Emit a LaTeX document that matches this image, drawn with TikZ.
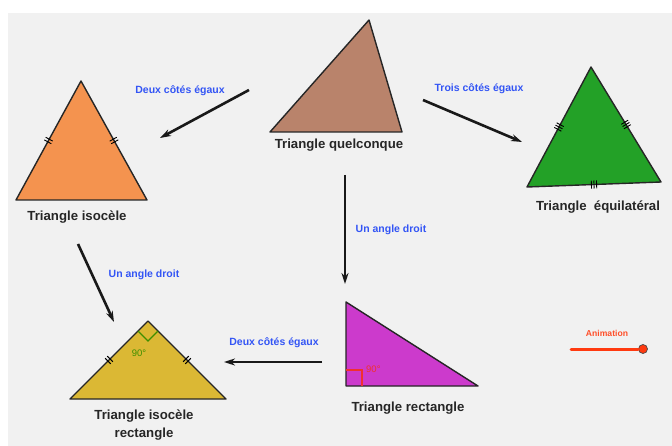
\documentclass[tikz,border=0pt]{standalone}
\usepackage{fontspec}
\setmainfont{Liberation Sans}
\usetikzlibrary{arrows.meta,calc}
\definecolor{bgray}{HTML}{F1F1F1}
\definecolor{cquel}{HTML}{B9836B}
\definecolor{ciso}{HTML}{F4934F}
\definecolor{cequi}{HTML}{23A127}
\definecolor{cisorect}{HTML}{DBB834}
\definecolor{crect}{HTML}{CC3ACC}
\definecolor{condblue}{HTML}{3355F5}
\definecolor{canim}{HTML}{FF3A10}
\definecolor{cgreenang}{HTML}{3F8F00}
\definecolor{credang}{HTML}{F03030}
\tikzset{
  dtick/.pic={\draw[line width=0.9pt] (-1.5pt,-4pt)--(-1.5pt,4pt) (1.5pt,-4pt)--(1.5pt,4pt);},
  ttick/.pic={\draw[line width=0.9pt] (-2.6pt,-4pt)--(-2.6pt,4pt) (0pt,-4pt)--(0pt,4pt) (2.6pt,-4pt)--(2.6pt,4pt);}
}
\begin{document}
\begin{tikzpicture}[x=1pt,y=-1pt,
  tri/.style={draw=black!85, line width=1.4pt, line join=round},
  lbl/.style={font=\bfseries\fontsize{13.2}{18}\selectfont, text=black!85, align=center, inner sep=0},
  cond/.style={font=\bfseries\fontsize{10.5}{12}\selectfont, text=condblue, inner sep=0},
  small/.style={font=\fontsize{9.5}{11}\selectfont, inner sep=0},
  flow/.style={line width=2.6pt, draw=black!90, -{Stealth[length=11pt,width=7pt]}}
]
\useasboundingbox (0,0) rectangle (672,446);
\fill[bgray] (8,13) rectangle (672,446);

% Triangle quelconque
\coordinate (QA) at (369,20);
\coordinate (QB) at (270,132);
\coordinate (QC) at (402,132);
\filldraw[tri, fill=cquel] (QA) -- (QB) -- (QC) -- cycle;
\node[lbl] (lquel) at (339,145) {Triangle quelconque};

% Triangle isocele
\coordinate (IA) at (81,81);
\coordinate (IB) at (16,200);
\coordinate (IC) at (147,200);
\filldraw[tri, fill=ciso] (IA) -- (IB) -- (IC) -- cycle;
\path (IA) -- (IB) pic[pos=0.5, sloped]{dtick};
\path (IA) -- (IC) pic[pos=0.5, sloped]{dtick};
\node[lbl] (liso) at (77,217) {Triangle isocèle};

% Triangle equilateral
\coordinate (EA) at (591,67);
\coordinate (EB) at (527,187);
\coordinate (EC) at (661,182);
\filldraw[tri, fill=cequi] (EA) -- (EB) -- (EC) -- cycle;
\path (EA) -- (EB) pic[pos=0.5, sloped]{ttick};
\path (EA) -- (EC) pic[pos=0.5, sloped]{ttick};
\path (EB) -- (EC) pic[pos=0.5, sloped]{ttick};
\node[lbl] (lequi) at (598,207) {Triangle\ \ équilatéral};

% Triangle rectangle
\coordinate (RA) at (346,302);
\coordinate (RB) at (346,386);
\coordinate (RC) at (478,386);
\filldraw[tri, fill=crect] (RA) -- (RB) -- (RC) -- cycle;
\draw[credang, line width=1.3pt] (346,370) -- (362,370) -- (362,386);
\node[small, text=credang, anchor=west] (rang) at (366,369) {90°};
\node[lbl] (lrect) at (408,408) {Triangle rectangle};

% Triangle isocele rectangle
\coordinate (JA) at (148,321);
\coordinate (JB) at (70,399);
\coordinate (JC) at (226,399);
\filldraw[tri, fill=cisorect] (JA) -- (JB) -- (JC) -- cycle;
\draw[cgreenang, line width=1.1pt] (138,331) -- (148,341) -- (158,331);
\node[small, text=cgreenang] (jang) at (139,353) {90°};
\path (JA) -- (JB) pic[pos=0.5, sloped]{dtick};
\path (JA) -- (JC) pic[pos=0.5, sloped]{dtick};
\node[lbl] (lisorect) at (144,425) {Triangle isocèle\\rectangle};

% Connectors
\coordinate (a1s) at (249,90);  \coordinate (a1e) at (160,138);
\coordinate (a2s) at (423,100); \coordinate (a2e) at (522,142);
\coordinate (a3s) at (345,175); \coordinate (a3e) at (345,284);
\coordinate (a4s) at (78,244);  \coordinate (a4e) at (114,322);
\coordinate (a5s) at (322,362); \coordinate (a5e) at (224,362);
\draw[flow] (a1s) -- (a1e);
\draw[flow] (a2s) -- (a2e);
\draw[flow] (a3s) -- (a3e);
\draw[flow] (a4s) -- (a4e);
\draw[flow] (a5s) -- (a5e);

\node[cond] (c1) at (180,91) {Deux côtés égaux};
\node[cond] (c2) at (479,89) {Trois côtés égaux};
\node[cond] (c3) at (391,230) {Un angle droit};
\node[cond] (c4) at (144,275) {Un angle droit};
\node[cond] (c5) at (274,343) {Deux côtés égaux};

% Animation slider
\node[font=\bfseries\fontsize{8.6}{10}\selectfont, text=canim!90, inner sep=0] (anim) at (607,333) {Animation};
\coordinate (s0) at (571,349);
\node[circle, fill=canim, draw=black!70, line width=0.7pt, minimum size=9pt, inner sep=0] (knob) at (643,349) {};
\draw[canim, line width=3pt, line cap=round] (s0) -- (knob.west);
\end{tikzpicture}
\end{document}
